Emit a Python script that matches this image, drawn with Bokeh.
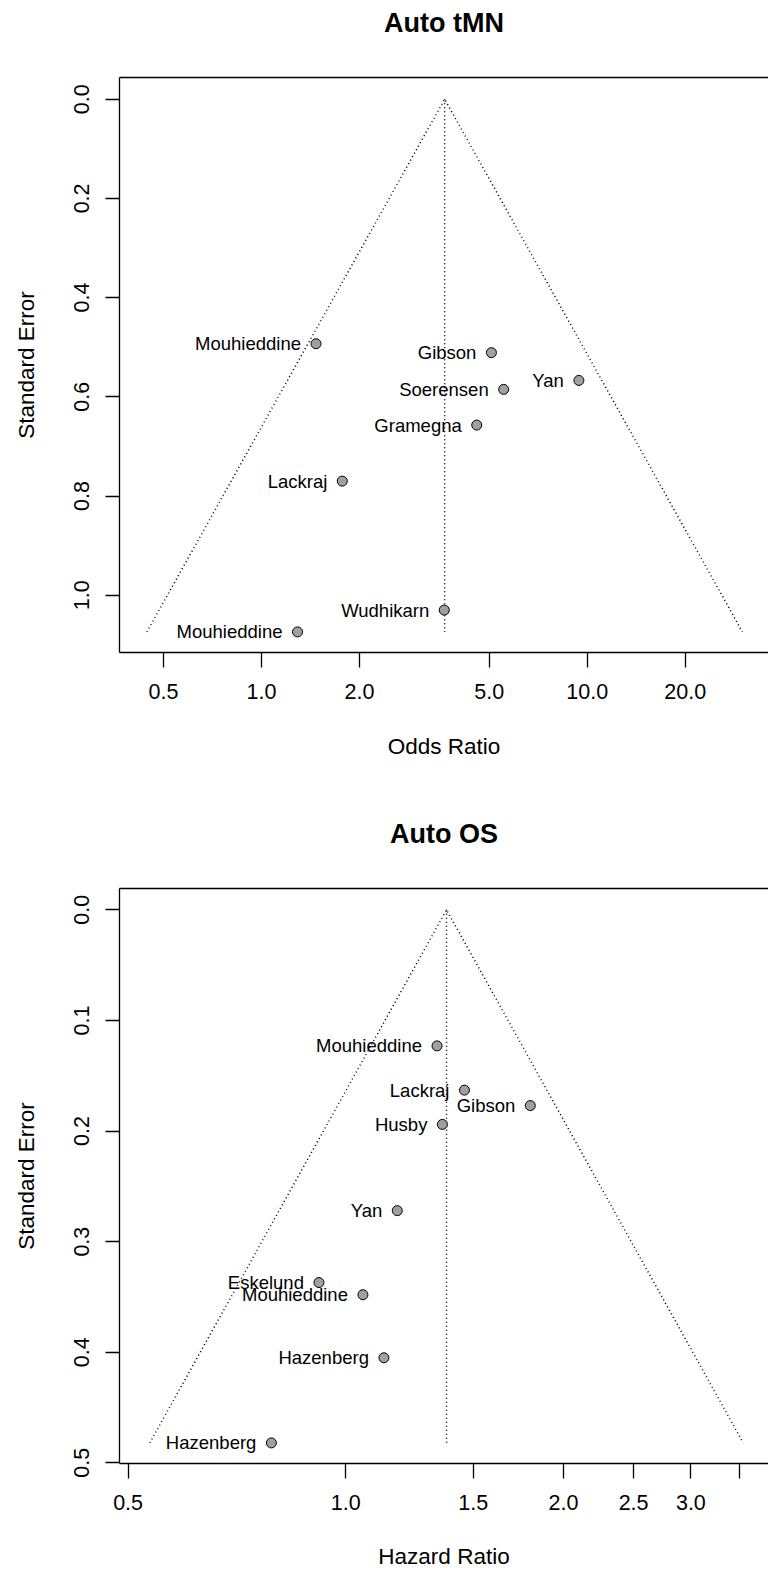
import numpy as np
from bokeh.plotting import figure
from bokeh.layouts import column
from bokeh.models import (Range1d, FixedTicker, PrintfTickFormatter, CustomJSTickFormatter,
                          LinearAxis, ColumnDataSource)
from bokeh.core.properties import value
from bokeh.embed import file_html
from bokeh.resources import INLINE

# ---- Data: Auto tMN (odds ratios) ----
tmn_study = ["Mouhieddine", "Gibson", "Yan", "Soerensen", "Gramegna",
             "Lackraj", "Wudhikarn", "Mouhieddine"]
tmn_or = [1.47, 5.08, 9.43, 5.54, 4.58, 1.77, 3.64, 1.29]
tmn_se = [0.493, 0.511, 0.567, 0.585, 0.657, 0.770, 1.030, 1.074]
tmn_pooled = 3.65
tmn_xticks = [0.5, 1.0, 2.0, 5.0, 10.0, 20.0]
tmn_yticks = [0.0, 0.2, 0.4, 0.6, 0.8, 1.0]

# ---- Data: Auto OS (hazard ratios) ----
os_study = ["Mouhieddine", "Lackraj", "Gibson", "Husby", "Yan", "Eskelund",
            "Mouhieddine", "Hazenberg", "Hazenberg"]
os_hr = [1.337, 1.459, 1.799, 1.360, 1.178, 0.918, 1.056, 1.129, 0.789]
os_se = [0.123, 0.163, 0.177, 0.194, 0.272, 0.337, 0.348, 0.405, 0.482]
os_pooled = 1.378
os_xticks = [0.5, 1.0, 1.5, 2.0, 2.5, 3.0, 3.5]
os_yticks = [0.0, 0.1, 0.2, 0.3, 0.4, 0.5]

FONT = "Liberation Sans"
WIDTH = 768
LEFT = 119


def funnel(title, studies, est, se, pooled, xlabel, xticks, yticks,
           xr, yr, height, top, bottom, xlab_standoff):
    p = figure(width=WIDTH, height=height, x_axis_type="log",
               x_range=Range1d(*xr), y_range=Range1d(*yr),
               output_backend="svg", toolbar_location=None,
               min_border_left=LEFT, min_border_right=0,
               min_border_top=top, min_border_bottom=bottom)
    p.outline_line_color = None
    p.grid.visible = False
    p.background_fill_color = "white"
    p.border_fill_color = "white"

    # funnel (pseudo 95% CI region) and centre line
    semax = max(se)
    lo = pooled * np.exp(-1.96 * semax)
    hi = pooled * np.exp(1.96 * semax)
    p.line([lo, pooled, hi], [semax, 0.0, semax], line_dash="1 3",
           line_color="black", line_width=1.5)
    p.line([pooled, pooled], [0.0, semax], line_dash="1 3",
           line_color="black", line_width=1.5)

    src = ColumnDataSource(dict(x=est, y=se, name=studies))
    p.scatter("x", "y", source=src, size=10, fill_color="#a0a0a0",
              line_color="black", line_width=1)
    p.text("x", "y", text="name", source=src, x_offset=-15,
           text_align="right", text_baseline="middle",
           text_font=value(FONT), text_font_size="18.5px", text_color="black")

    xa = p.xaxis[0]
    xa.ticker = FixedTicker(ticks=xticks)
    xa.formatter = CustomJSTickFormatter(
        code="return (Math.abs(tick - 3.5) < 1e-9) ? '' : tick.toFixed(1);")
    xa.axis_label = xlabel
    xa.major_tick_out = 15
    xa.major_label_standoff = 16
    xa.axis_label_standoff = xlab_standoff

    ya = p.yaxis[0]
    ya.ticker = FixedTicker(ticks=yticks)
    ya.formatter = PrintfTickFormatter(format="%.1f")
    ya.axis_label = "Standard Error"
    ya.major_tick_out = 14
    ya.major_label_orientation = "parallel"
    ya.major_label_standoff = 16
    ya.axis_label_standoff = 33

    for ax in (xa, ya):
        ax.major_tick_in = 0
        ax.minor_tick_line_color = None
        ax.axis_line_color = "black"
        ax.axis_line_width = 1.3
        ax.major_tick_line_color = "black"
        ax.major_tick_line_width = 1.3
        ax.major_label_text_font = FONT
        ax.major_label_text_font_size = "21.5px"
        ax.major_label_text_color = "black"
        ax.axis_label_text_font = FONT
        ax.axis_label_text_font_size = "22.5px"
        ax.axis_label_text_font_style = "normal"
        ax.axis_label_text_color = "black"

    # top side of the box, carrying the plot title
    top_axis = LinearAxis(ticker=FixedTicker(ticks=[]), axis_line_color="black",
                          axis_line_width=1.3, major_tick_out=0, major_tick_in=0,
                          minor_tick_out=0, minor_tick_in=0,
                          axis_label=title, axis_label_standoff=40,
                          axis_label_text_font=FONT,
                          axis_label_text_font_size="27px",
                          axis_label_text_font_style="bold",
                          axis_label_text_color="black")
    p.add_layout(top_axis, "above")
    return p


p1 = funnel("Auto tMN", tmn_study, tmn_or, tmn_se, tmn_pooled, "Odds Ratio",
            tmn_xticks, tmn_yticks, (0.3664, 36.03), (1.1155, -0.0437),
            810, 77, 158, 32)
p2 = funnel("Auto OS", os_study, os_hr, os_se, os_pooled, "Hazard Ratio",
            os_xticks, os_yticks, (0.4865, 3.841), (0.5006, -0.0193),
            763, 78, 110, 31)

layout = column(p1, p2, spacing=0)
open("out.html", "w").write(file_html(layout, INLINE))
